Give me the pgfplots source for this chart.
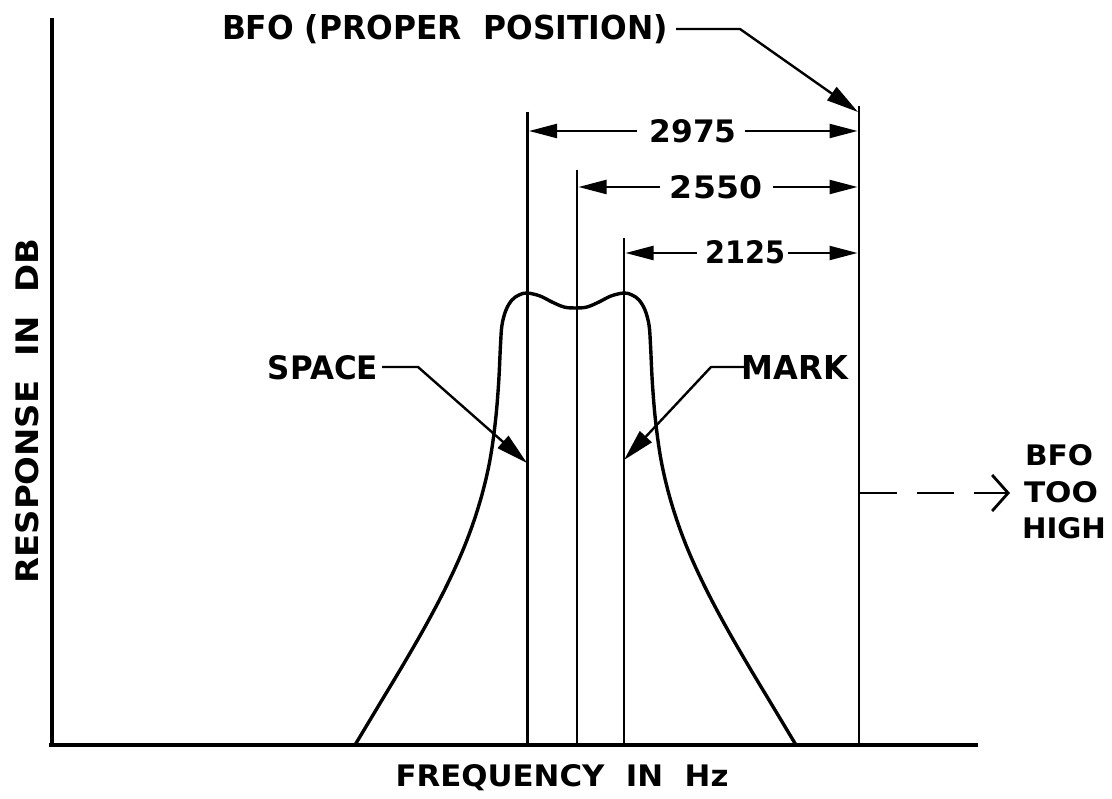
\documentclass[border=0pt]{standalone}
\usepackage{pgfplots}
\pgfplotsset{compat=1.18}
\usepackage{fontspec}
\setmainfont{DejaVu Sans}
\usepackage{graphicx}
\usetikzlibrary{arrows.meta}
\newcommand{\lab}[3]{\resizebox{#1pt}{#2pt}{\bfseries #3}}
\begin{document}
\begin{tikzpicture}
\begin{axis}[x=1pt,y=1pt,xmin=0,xmax=1112,ymin=0,ymax=799,y dir=reverse,
  hide axis,clip=false]
\path (axis cs:0,0) rectangle (axis cs:1112,799);
% axes
\addplot[black,line width=3.2pt] coordinates {(52,18) (52,745)};
\addplot[black,line width=3.2pt] coordinates {(49,745) (978,745)};
% response curve
\addplot[black,line width=3.4pt,smooth,tension=0.6,line join=round] coordinates {
(355,745) (379,705) (403,665) (426,625) (447,585) (465,545) (479,505)
(489,465) (495,425) (498.5,385) (500.5,345) (502,325) (506,310) (512,300)
(519,295) (527,293) (540,296) (552,302) (564,307) (575.5,308)
(587,307) (599,302) (611,296) (624,293) (632,295) (639,300) (645,310)
(649,325) (650.5,345) (652.5,385) (656,425) (662,465) (672,505)
(686,545) (704,585) (725,625) (748,665) (772,705) (796,745)};
% vertical lines
\addplot[black,line width=2.6pt] coordinates {(527.5,112) (527.5,745)};
\addplot[black,line width=2.6pt] coordinates {(577,170) (577,745)};
\addplot[black,line width=2.6pt] coordinates {(624,238) (624,745)};
\addplot[black,line width=2.8pt] coordinates {(859,106) (859,745)};
% dimension lines
\tikzset{dimarr/.style={black,line width=2.2pt,-{Triangle[length=28pt,width=14pt]}}}
\addplot[dimarr] coordinates {(637,131) (529,131)};
\addplot[dimarr] coordinates {(745,131) (857.5,131)};
\addplot[dimarr] coordinates {(660,187) (578.5,187)};
\addplot[dimarr] coordinates {(773,187) (857.5,187)};
\addplot[dimarr] coordinates {(697,253) (625.5,253)};
\addplot[dimarr] coordinates {(788,253) (857.5,253)};
% leaders
\tikzset{leadarr/.style={black,line width=2.4pt,line join=round,-{Triangle[length=32pt,width=16pt]}}}
\addplot[leadarr] coordinates {(676,29) (740,29) (858,112)};
\addplot[leadarr] coordinates {(382,367) (418,367) (527,463)};
\addplot[leadarr] coordinates {(746,367) (711,367) (624,460)};
% BFO too high
\addplot[black,line width=2.8pt,dash pattern=on 37pt off 20pt,
  -{Straight Barb[length=16pt,width=36pt,line width=2.8pt]}] coordinates {(860,493) (1010,493)};
% texts
\node[inner sep=0] at (axis cs:445,29) {\lab{446}{25}{BFO (PROPER\ \ POSITION)}};
\node[inner sep=0] at (axis cs:693,131) {\lab{87}{23}{2975}};
\node[inner sep=0] at (axis cs:716,187) {\lab{92}{23}{2550}};
\node[inner sep=0] at (axis cs:745,252) {\lab{80}{23}{2125}};
\node[inner sep=0] at (axis cs:323,368) {\lab{110}{24}{SPACE}};
\node[inner sep=0] at (axis cs:795,368) {\lab{106}{24}{MARK}};
\node[inner sep=0] at (axis cs:1059,455) {\lab{68}{21}{BFO}};
\node[inner sep=0] at (axis cs:1061,492) {\lab{74}{21}{TOO}};
\node[inner sep=0] at (axis cs:1064,528) {\lab{84}{21}{HIGH}};
\node[inner sep=0,rotate=90] at (axis cs:27,411) {\lab{345}{23}{RESPONSE\ \ IN\ \ DB}};
\node[inner sep=0] at (axis cs:562,778) {\lab{333}{22}{FREQUENCY\ \ IN\ \ Hz}};
\end{axis}
\end{tikzpicture}
\end{document}
